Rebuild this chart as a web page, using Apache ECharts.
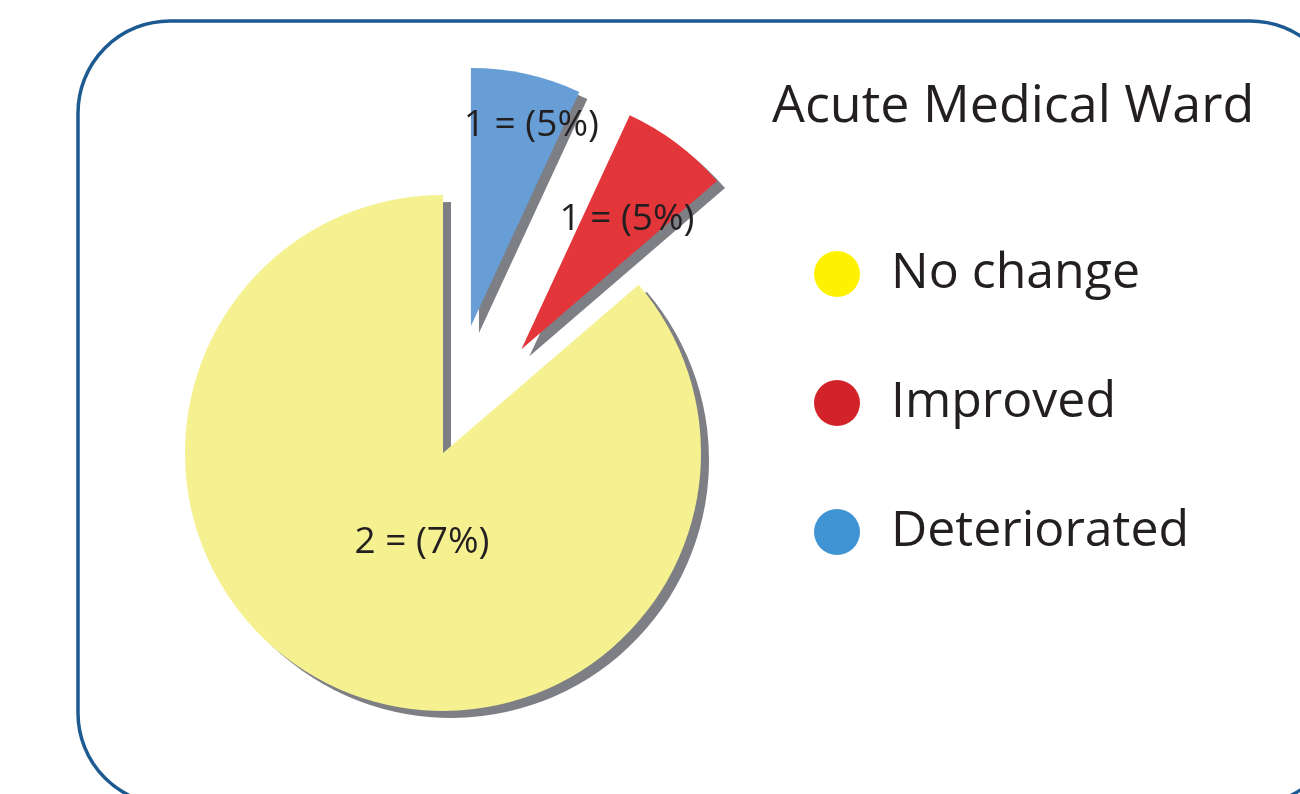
<!DOCTYPE html>
<html lang="en">
  <head>
    <meta charset="utf-8">
    <title>Acute Medical Ward</title>
    <style>
      html, body { margin: 0; padding: 0; background: #fff; }
      #main { width: 1300px; height: 794px; }
    </style>
  </head>
  <body>
    <div id="main"></div>
    <script src="https://cdn.jsdelivr.net/npm/echarts@6/dist/echarts.min.js"></script>
    <script>
      // slices in drawing order (clockwise from 12 o'clock)
      var categories = ['Deteriorated', 'Improved', 'No change'];
      var sliceShare = [6.9, 6.8, 86.3];
      var labelText = ['1 = (5%)', '1 = (5%)', '2 = (7%)'];
      var exploded = [true, true, false];
      var sliceColors = ['#669ed5', '#e3363b', '#f5f191'];

      // legend order and its own (brighter) dot colours
      var legendNames = ['No change', 'Improved', 'Deteriorated'];
      var legendColors = ['#fff200', '#d2232a', '#4194d3'];

      // nudge of each label from its default inside spot
      var labelShift = [[32, -72], [26, -25], [34, -31]];

      var myChart = echarts.init(document.getElementById('main'));

      var option = {
        animation: false,
        title: {
          text: 'Acute Medical Ward',
          left: 767,
          top: 76,
          textStyle: {
            fontFamily: 'Open Sans',
            fontWeight: 'normal',
            fontSize: 52,
            color: '#231f20'
          }
        },
        legend: {
          orient: 'vertical',
          left: 809,
          top: 244,
          icon: 'circle',
          itemWidth: 46,
          itemHeight: 46,
          itemGap: 79,
          selectedMode: false,
          textStyle: {
            fontFamily: 'Open Sans',
            fontSize: 50,
            color: '#231f20',
            padding: [0, 0, 0, 26]
          },
          data: legendNames.map(function(n, i) {
            return { name: n, itemStyle: { color: legendColors[i] } };
          })
        },
        graphic: [{
          type: 'rect',
          silent: true,
          shape: { x: 78, y: 21, width: 1264, height: 784, r: 92 },
          style: { fill: 'none', stroke: '#1d5a91', lineWidth: 3.5 }
        }],
        series: [{
          type: 'pie',
          center: [443, 453],
          radius: 258,
          startAngle: 90,
          clockwise: true,
          selectedMode: 'multiple',
          selectedOffset: 130,
          avoidLabelOverlap: false,
          emphasis: { disabled: true },
          itemStyle: {
            shadowColor: '#7e7f85',
            shadowBlur: 0,
            shadowOffsetX: 8,
            shadowOffsetY: 7
          },
          label: {
            show: true,
            position: 'inside',
            fontFamily: 'Open Sans',
            fontSize: 37,
            color: '#231f20',
            formatter: function(p) { return labelText[p.dataIndex]; }
          },
          labelLine: { show: false },
          labelLayout: function(p) {
            return { dx: labelShift[p.dataIndex][0], dy: labelShift[p.dataIndex][1] };
          },
          data: categories.map(function(c, i) {
            return {
              name: c,
              value: sliceShare[i],
              selected: exploded[i],
              itemStyle: { color: sliceColors[i] }
            };
          })
        }]
      };

      myChart.setOption(option);
    </script>
  </body>
</html>
